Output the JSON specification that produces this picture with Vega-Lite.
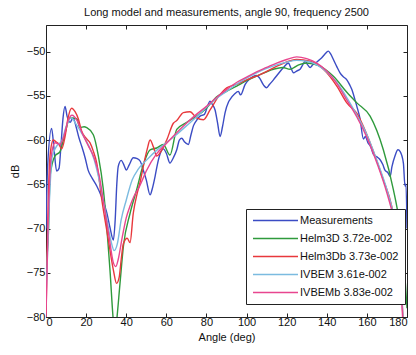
{
  "$schema": "https://vega.github.io/schema/vega-lite/v6.json",
  "width": 361,
  "height": 292,
  "autosize": {"type": "none"},
  "padding": {"left": 46, "top": 25, "right": 9, "bottom": 38},
  "background": "white",
  "title": {"text": "Long model and measurements, angle 90, frequency 2500", "fontSize": 11, "fontWeight": "normal", "font": "Liberation Sans", "color": "#111", "offset": 7},
  "config": {
    "view": {"stroke": "#222", "strokeWidth": 1},
    "axis": {"labelFont": "Liberation Sans", "titleFont": "Liberation Sans", "labelFontSize": 11, "titleFontSize": 11, "titleFontWeight": "normal", "labelColor": "#111", "titleColor": "#111", "domain": false, "grid": false, "tickColor": "#222", "tickSize": -4}
  },
  "data": {"values": [
    {"s":"Measurements","x":0,"y":-70},{"s":"Measurements","x":0.8,"y":-63},{"s":"Measurements","x":2.8,"y":-58.7},{"s":"Measurements","x":4,"y":-61},{"s":"Measurements","x":5.3,"y":-63.5},{"s":"Measurements","x":6.5,"y":-63.2},{"s":"Measurements","x":7.5,"y":-60.5},{"s":"Measurements","x":8.5,"y":-57.5},{"s":"Measurements","x":9.5,"y":-56.2},{"s":"Measurements","x":10.5,"y":-57.3},{"s":"Measurements","x":12,"y":-58},{"s":"Measurements","x":13.5,"y":-57.5},{"s":"Measurements","x":15,"y":-58.5},{"s":"Measurements","x":16.5,"y":-59.8},{"s":"Measurements","x":17.8,"y":-60.7},{"s":"Measurements","x":19.5,"y":-62},{"s":"Measurements","x":21,"y":-63.4},{"s":"Measurements","x":23,"y":-64.3},{"s":"Measurements","x":25.3,"y":-65.2},{"s":"Measurements","x":27.5,"y":-66.3},{"s":"Measurements","x":30.3,"y":-68.2},{"s":"Measurements","x":32,"y":-70},{"s":"Measurements","x":33.6,"y":-71.3},{"s":"Measurements","x":34.5,"y":-69},{"s":"Measurements","x":35.3,"y":-65},{"s":"Measurements","x":36,"y":-63},{"s":"Measurements","x":37.5,"y":-62.3},{"s":"Measurements","x":39,"y":-62.9},{"s":"Measurements","x":40,"y":-63.4},{"s":"Measurements","x":41.5,"y":-62.8},{"s":"Measurements","x":43.5,"y":-62},{"s":"Measurements","x":45.5,"y":-62.1},{"s":"Measurements","x":47,"y":-62.4},{"s":"Measurements","x":48.5,"y":-63.4},{"s":"Measurements","x":50,"y":-64.5},{"s":"Measurements","x":51.9,"y":-66.2},{"s":"Measurements","x":53,"y":-65.5},{"s":"Measurements","x":54.4,"y":-64.1},{"s":"Measurements","x":55.5,"y":-62.8},{"s":"Measurements","x":57,"y":-61.5},{"s":"Measurements","x":58.5,"y":-61},{"s":"Measurements","x":60,"y":-61.5},{"s":"Measurements","x":61.8,"y":-62.6},{"s":"Measurements","x":63.5,"y":-62},{"s":"Measurements","x":65.2,"y":-61.1},{"s":"Measurements","x":66.5,"y":-60},{"s":"Measurements","x":67.7,"y":-59.8},{"s":"Measurements","x":69,"y":-60.2},{"s":"Measurements","x":71,"y":-60.5},{"s":"Measurements","x":72.3,"y":-59.4},{"s":"Measurements","x":73.5,"y":-58.4},{"s":"Measurements","x":75,"y":-57.8},{"s":"Measurements","x":76.8,"y":-57.3},{"s":"Measurements","x":79,"y":-57.1},{"s":"Measurements","x":80.5,"y":-56.2},{"s":"Measurements","x":81.8,"y":-55.6},{"s":"Measurements","x":83,"y":-56},{"s":"Measurements","x":84.3,"y":-56.6},{"s":"Measurements","x":85.5,"y":-58},{"s":"Measurements","x":86.8,"y":-59.6},{"s":"Measurements","x":88,"y":-58.5},{"s":"Measurements","x":89.3,"y":-56.9},{"s":"Measurements","x":91,"y":-55.7},{"s":"Measurements","x":91.8,"y":-55.4},{"s":"Measurements","x":94,"y":-54.8},{"s":"Measurements","x":95.9,"y":-54.5},{"s":"Measurements","x":97,"y":-54.9},{"s":"Measurements","x":99.3,"y":-53.7},{"s":"Measurements","x":101.5,"y":-53.1},{"s":"Measurements","x":103.4,"y":-52.8},{"s":"Measurements","x":105,"y":-52.7},{"s":"Measurements","x":106.5,"y":-53},{"s":"Measurements","x":108.5,"y":-53.8},{"s":"Measurements","x":110,"y":-54.1},{"s":"Measurements","x":111.5,"y":-53.7},{"s":"Measurements","x":113.4,"y":-53.2},{"s":"Measurements","x":115.5,"y":-52.6},{"s":"Measurements","x":118.4,"y":-51.8},{"s":"Measurements","x":120.9,"y":-51.3},{"s":"Measurements","x":122,"y":-51.8},{"s":"Measurements","x":123.4,"y":-52.4},{"s":"Measurements","x":125,"y":-52.2},{"s":"Measurements","x":126.7,"y":-52},{"s":"Measurements","x":128,"y":-51.5},{"s":"Measurements","x":129.2,"y":-51.1},{"s":"Measurements","x":130.5,"y":-51.5},{"s":"Measurements","x":131.7,"y":-51.8},{"s":"Measurements","x":133,"y":-51.5},{"s":"Measurements","x":134.5,"y":-51.3},{"s":"Measurements","x":136,"y":-51},{"s":"Measurements","x":137.5,"y":-50.7},{"s":"Measurements","x":139,"y":-50.3},{"s":"Measurements","x":140.8,"y":-49.95},{"s":"Measurements","x":142,"y":-50.3},{"s":"Measurements","x":143.3,"y":-50.9},{"s":"Measurements","x":145,"y":-51.7},{"s":"Measurements","x":146.6,"y":-52.4},{"s":"Measurements","x":148,"y":-52.8},{"s":"Measurements","x":150,"y":-53.2},{"s":"Measurements","x":151.5,"y":-53.8},{"s":"Measurements","x":152.5,"y":-54.3},{"s":"Measurements","x":154,"y":-55.4},{"s":"Measurements","x":155,"y":-56.2},{"s":"Measurements","x":156.5,"y":-57.5},{"s":"Measurements","x":158.3,"y":-59.9},{"s":"Measurements","x":159.2,"y":-59.6},{"s":"Measurements","x":160.5,"y":-60.3},{"s":"Measurements","x":162,"y":-60.8},{"s":"Measurements","x":163.2,"y":-61.6},{"s":"Measurements","x":165,"y":-61.9},{"s":"Measurements","x":166.5,"y":-62.2},{"s":"Measurements","x":168,"y":-62.8},{"s":"Measurements","x":169,"y":-63.4},{"s":"Measurements","x":170.5,"y":-63.7},{"s":"Measurements","x":171.6,"y":-64.1},{"s":"Measurements","x":172.5,"y":-63},{"s":"Measurements","x":174,"y":-61.8},{"s":"Measurements","x":175.5,"y":-61.1},{"s":"Measurements","x":176.6,"y":-61.3},{"s":"Measurements","x":178.2,"y":-62.6},{"s":"Measurements","x":179,"y":-65.2},{"s":"Measurements","x":179.5,"y":-65},{"s":"Measurements","x":180,"y":-70},

    {"s":"Helm3D 3.72e-002","x":0,"y":-74},{"s":"Helm3D 3.72e-002","x":1.2,"y":-70.5},{"s":"Helm3D 3.72e-002","x":2,"y":-64.1},{"s":"Helm3D 3.72e-002","x":4.5,"y":-61.8},{"s":"Helm3D 3.72e-002","x":7,"y":-61.3},{"s":"Helm3D 3.72e-002","x":9.5,"y":-59.2},{"s":"Helm3D 3.72e-002","x":12,"y":-57.5},{"s":"Helm3D 3.72e-002","x":15.3,"y":-57.6},{"s":"Helm3D 3.72e-002","x":17,"y":-58.6},{"s":"Helm3D 3.72e-002","x":19,"y":-58.5},{"s":"Helm3D 3.72e-002","x":20.3,"y":-58.6},{"s":"Helm3D 3.72e-002","x":23.6,"y":-59.4},{"s":"Helm3D 3.72e-002","x":26.1,"y":-61.8},{"s":"Helm3D 3.72e-002","x":28.6,"y":-65.6},{"s":"Helm3D 3.72e-002","x":31.9,"y":-74.7},{"s":"Helm3D 3.72e-002","x":33.6,"y":-80.5},{"s":"Helm3D 3.72e-002","x":34.4,"y":-82},{"s":"Helm3D 3.72e-002","x":35.2,"y":-80.5},{"s":"Helm3D 3.72e-002","x":36.9,"y":-76.2},{"s":"Helm3D 3.72e-002","x":38.6,"y":-72},{"s":"Helm3D 3.72e-002","x":41.9,"y":-68.3},{"s":"Helm3D 3.72e-002","x":45.2,"y":-65.6},{"s":"Helm3D 3.72e-002","x":48.5,"y":-62.8},{"s":"Helm3D 3.72e-002","x":51.9,"y":-61.1},{"s":"Helm3D 3.72e-002","x":55.2,"y":-60.9},{"s":"Helm3D 3.72e-002","x":58.5,"y":-60.5},{"s":"Helm3D 3.72e-002","x":61.8,"y":-61.7},{"s":"Helm3D 3.72e-002","x":65.2,"y":-58.8},{"s":"Helm3D 3.72e-002","x":70.2,"y":-58},{"s":"Helm3D 3.72e-002","x":75.1,"y":-57.3},{"s":"Helm3D 3.72e-002","x":80,"y":-56.4},{"s":"Helm3D 3.72e-002","x":85.1,"y":-55.1},{"s":"Helm3D 3.72e-002","x":90,"y":-54.5},{"s":"Helm3D 3.72e-002","x":95.1,"y":-53.9},{"s":"Helm3D 3.72e-002","x":100,"y":-53.3},{"s":"Helm3D 3.72e-002","x":106.7,"y":-52.6},{"s":"Helm3D 3.72e-002","x":113.4,"y":-52},{"s":"Helm3D 3.72e-002","x":118,"y":-51.8},{"s":"Helm3D 3.72e-002","x":121.7,"y":-52},{"s":"Helm3D 3.72e-002","x":126,"y":-51.5},{"s":"Helm3D 3.72e-002","x":130,"y":-51.3},{"s":"Helm3D 3.72e-002","x":136,"y":-51.6},{"s":"Helm3D 3.72e-002","x":143.3,"y":-52.8},{"s":"Helm3D 3.72e-002","x":150,"y":-54.6},{"s":"Helm3D 3.72e-002","x":155,"y":-55.8},{"s":"Helm3D 3.72e-002","x":161.6,"y":-57.3},{"s":"Helm3D 3.72e-002","x":168.2,"y":-61.1},{"s":"Helm3D 3.72e-002","x":173.2,"y":-65.6},{"s":"Helm3D 3.72e-002","x":176,"y":-69},{"s":"Helm3D 3.72e-002","x":178.5,"y":-74},{"s":"Helm3D 3.72e-002","x":180,"y":-79},

    {"s":"Helm3Db 3.73e-002","x":0,"y":-80},{"s":"Helm3Db 3.73e-002","x":0.8,"y":-70},{"s":"Helm3Db 3.73e-002","x":2,"y":-61.8},{"s":"Helm3Db 3.73e-002","x":3.6,"y":-60},{"s":"Helm3Db 3.73e-002","x":5,"y":-60.2},{"s":"Helm3Db 3.73e-002","x":6.2,"y":-60.4},{"s":"Helm3Db 3.73e-002","x":7.8,"y":-61},{"s":"Helm3Db 3.73e-002","x":9.5,"y":-59.6},{"s":"Helm3Db 3.73e-002","x":11,"y":-57.5},{"s":"Helm3Db 3.73e-002","x":12.8,"y":-56.4},{"s":"Helm3Db 3.73e-002","x":14.5,"y":-56.8},{"s":"Helm3Db 3.73e-002","x":16.1,"y":-57.6},{"s":"Helm3Db 3.73e-002","x":17.8,"y":-59},{"s":"Helm3Db 3.73e-002","x":20,"y":-59.8},{"s":"Helm3Db 3.73e-002","x":21.9,"y":-60.3},{"s":"Helm3Db 3.73e-002","x":23.5,"y":-61.2},{"s":"Helm3Db 3.73e-002","x":25.3,"y":-62.6},{"s":"Helm3Db 3.73e-002","x":27.8,"y":-66.7},{"s":"Helm3Db 3.73e-002","x":31.1,"y":-71.3},{"s":"Helm3Db 3.73e-002","x":33.6,"y":-74.7},{"s":"Helm3Db 3.73e-002","x":35.2,"y":-76.2},{"s":"Helm3Db 3.73e-002","x":36.5,"y":-75.5},{"s":"Helm3Db 3.73e-002","x":37.5,"y":-73.5},{"s":"Helm3Db 3.73e-002","x":38.6,"y":-71.7},{"s":"Helm3Db 3.73e-002","x":40.5,"y":-71.1},{"s":"Helm3Db 3.73e-002","x":41.9,"y":-71.6},{"s":"Helm3Db 3.73e-002","x":43.5,"y":-68.3},{"s":"Helm3Db 3.73e-002","x":45.5,"y":-66},{"s":"Helm3Db 3.73e-002","x":46.9,"y":-64.8},{"s":"Helm3Db 3.73e-002","x":48.5,"y":-63},{"s":"Helm3Db 3.73e-002","x":50.5,"y":-61},{"s":"Helm3Db 3.73e-002","x":51.9,"y":-60},{"s":"Helm3Db 3.73e-002","x":53.6,"y":-60.8},{"s":"Helm3Db 3.73e-002","x":55.2,"y":-61.8},{"s":"Helm3Db 3.73e-002","x":57.6,"y":-61.2},{"s":"Helm3Db 3.73e-002","x":60.2,"y":-60},{"s":"Helm3Db 3.73e-002","x":63.5,"y":-58.1},{"s":"Helm3Db 3.73e-002","x":65.2,"y":-57.8},{"s":"Helm3Db 3.73e-002","x":68.5,"y":-56.9},{"s":"Helm3Db 3.73e-002","x":71.8,"y":-56.8},{"s":"Helm3Db 3.73e-002","x":75.1,"y":-57.5},{"s":"Helm3Db 3.73e-002","x":78.5,"y":-57.7},{"s":"Helm3Db 3.73e-002","x":81.8,"y":-56.6},{"s":"Helm3Db 3.73e-002","x":86,"y":-55.1},{"s":"Helm3Db 3.73e-002","x":90.1,"y":-54.1},{"s":"Helm3Db 3.73e-002","x":95.1,"y":-53.7},{"s":"Helm3Db 3.73e-002","x":100,"y":-53.2},{"s":"Helm3Db 3.73e-002","x":106.7,"y":-52.6},{"s":"Helm3Db 3.73e-002","x":116.7,"y":-51.5},{"s":"Helm3Db 3.73e-002","x":125,"y":-50.9},{"s":"Helm3Db 3.73e-002","x":131.7,"y":-51.1},{"s":"Helm3Db 3.73e-002","x":138.3,"y":-52},{"s":"Helm3Db 3.73e-002","x":145,"y":-53.9},{"s":"Helm3Db 3.73e-002","x":150,"y":-55.8},{"s":"Helm3Db 3.73e-002","x":155,"y":-57},{"s":"Helm3Db 3.73e-002","x":161.6,"y":-60.3},{"s":"Helm3Db 3.73e-002","x":168.2,"y":-64.5},{"s":"Helm3Db 3.73e-002","x":172.4,"y":-67.5},{"s":"Helm3Db 3.73e-002","x":175,"y":-71},{"s":"Helm3Db 3.73e-002","x":177,"y":-76},{"s":"Helm3Db 3.73e-002","x":178,"y":-80},

    {"s":"IVBEM 3.61e-002","x":0,"y":-78},{"s":"IVBEM 3.61e-002","x":1.5,"y":-68},{"s":"IVBEM 3.61e-002","x":3,"y":-62},{"s":"IVBEM 3.61e-002","x":5,"y":-60.8},{"s":"IVBEM 3.61e-002","x":8,"y":-60},{"s":"IVBEM 3.61e-002","x":10,"y":-58.5},{"s":"IVBEM 3.61e-002","x":12.5,"y":-57.5},{"s":"IVBEM 3.61e-002","x":15,"y":-58.2},{"s":"IVBEM 3.61e-002","x":18,"y":-59.3},{"s":"IVBEM 3.61e-002","x":21,"y":-60.5},{"s":"IVBEM 3.61e-002","x":24,"y":-62.2},{"s":"IVBEM 3.61e-002","x":27,"y":-65},{"s":"IVBEM 3.61e-002","x":30,"y":-68.5},{"s":"IVBEM 3.61e-002","x":32.5,"y":-71.5},{"s":"IVBEM 3.61e-002","x":34,"y":-72.5},{"s":"IVBEM 3.61e-002","x":35.5,"y":-71.8},{"s":"IVBEM 3.61e-002","x":37.5,"y":-69},{"s":"IVBEM 3.61e-002","x":40,"y":-66.8},{"s":"IVBEM 3.61e-002","x":43,"y":-64.5},{"s":"IVBEM 3.61e-002","x":46,"y":-63.3},{"s":"IVBEM 3.61e-002","x":50,"y":-62.3},{"s":"IVBEM 3.61e-002","x":55,"y":-61.2},{"s":"IVBEM 3.61e-002","x":60,"y":-60.3},{"s":"IVBEM 3.61e-002","x":65,"y":-59.4},{"s":"IVBEM 3.61e-002","x":70,"y":-58.4},{"s":"IVBEM 3.61e-002","x":75,"y":-57.4},{"s":"IVBEM 3.61e-002","x":80,"y":-56.3},{"s":"IVBEM 3.61e-002","x":85,"y":-55.3},{"s":"IVBEM 3.61e-002","x":90,"y":-54.5},{"s":"IVBEM 3.61e-002","x":95,"y":-53.7},{"s":"IVBEM 3.61e-002","x":100,"y":-53},{"s":"IVBEM 3.61e-002","x":105,"y":-52.4},{"s":"IVBEM 3.61e-002","x":110,"y":-51.9},{"s":"IVBEM 3.61e-002","x":115,"y":-51.5},{"s":"IVBEM 3.61e-002","x":120,"y":-51.2},{"s":"IVBEM 3.61e-002","x":125,"y":-51},{"s":"IVBEM 3.61e-002","x":130,"y":-51.1},{"s":"IVBEM 3.61e-002","x":135,"y":-51.5},{"s":"IVBEM 3.61e-002","x":140,"y":-52.3},{"s":"IVBEM 3.61e-002","x":145,"y":-53.5},{"s":"IVBEM 3.61e-002","x":150,"y":-55.2},{"s":"IVBEM 3.61e-002","x":155,"y":-57.2},{"s":"IVBEM 3.61e-002","x":160,"y":-59.4},{"s":"IVBEM 3.61e-002","x":165,"y":-62.3},{"s":"IVBEM 3.61e-002","x":170,"y":-65.6},{"s":"IVBEM 3.61e-002","x":173,"y":-68.2},{"s":"IVBEM 3.61e-002","x":175,"y":-71},{"s":"IVBEM 3.61e-002","x":177,"y":-76},{"s":"IVBEM 3.61e-002","x":178,"y":-80},

    {"s":"IVBEMb 3.83e-002","x":0,"y":-80},{"s":"IVBEMb 3.83e-002","x":1,"y":-70},{"s":"IVBEMb 3.83e-002","x":2.5,"y":-62},{"s":"IVBEMb 3.83e-002","x":4.5,"y":-60.3},{"s":"IVBEMb 3.83e-002","x":7,"y":-60.5},{"s":"IVBEMb 3.83e-002","x":9,"y":-59.5},{"s":"IVBEMb 3.83e-002","x":11,"y":-57.8},{"s":"IVBEMb 3.83e-002","x":13,"y":-57.2},{"s":"IVBEMb 3.83e-002","x":15.5,"y":-57.8},{"s":"IVBEMb 3.83e-002","x":18,"y":-59.2},{"s":"IVBEMb 3.83e-002","x":21,"y":-60.6},{"s":"IVBEMb 3.83e-002","x":24,"y":-62},{"s":"IVBEMb 3.83e-002","x":26.5,"y":-64},{"s":"IVBEMb 3.83e-002","x":29,"y":-67.5},{"s":"IVBEMb 3.83e-002","x":31.5,"y":-71},{"s":"IVBEMb 3.83e-002","x":33.5,"y":-73.8},{"s":"IVBEMb 3.83e-002","x":34.8,"y":-74.3},{"s":"IVBEMb 3.83e-002","x":36,"y":-73.5},{"s":"IVBEMb 3.83e-002","x":38,"y":-71},{"s":"IVBEMb 3.83e-002","x":40,"y":-68.8},{"s":"IVBEMb 3.83e-002","x":42,"y":-67.4},{"s":"IVBEMb 3.83e-002","x":44,"y":-66.3},{"s":"IVBEMb 3.83e-002","x":46.5,"y":-65.3},{"s":"IVBEMb 3.83e-002","x":50,"y":-63.5},{"s":"IVBEMb 3.83e-002","x":55,"y":-61.6},{"s":"IVBEMb 3.83e-002","x":60,"y":-60.4},{"s":"IVBEMb 3.83e-002","x":65,"y":-59.2},{"s":"IVBEMb 3.83e-002","x":70,"y":-58.1},{"s":"IVBEMb 3.83e-002","x":75,"y":-57.1},{"s":"IVBEMb 3.83e-002","x":80,"y":-56.2},{"s":"IVBEMb 3.83e-002","x":85,"y":-55.2},{"s":"IVBEMb 3.83e-002","x":90,"y":-54.3},{"s":"IVBEMb 3.83e-002","x":95,"y":-53.5},{"s":"IVBEMb 3.83e-002","x":100,"y":-52.9},{"s":"IVBEMb 3.83e-002","x":105,"y":-52.3},{"s":"IVBEMb 3.83e-002","x":110,"y":-51.8},{"s":"IVBEMb 3.83e-002","x":115,"y":-51.3},{"s":"IVBEMb 3.83e-002","x":120,"y":-50.9},{"s":"IVBEMb 3.83e-002","x":125,"y":-50.6},{"s":"IVBEMb 3.83e-002","x":130,"y":-50.8},{"s":"IVBEMb 3.83e-002","x":135,"y":-51.3},{"s":"IVBEMb 3.83e-002","x":140,"y":-52.2},{"s":"IVBEMb 3.83e-002","x":145,"y":-53.6},{"s":"IVBEMb 3.83e-002","x":150,"y":-55.5},{"s":"IVBEMb 3.83e-002","x":155,"y":-57.4},{"s":"IVBEMb 3.83e-002","x":160,"y":-59.7},{"s":"IVBEMb 3.83e-002","x":165,"y":-62.6},{"s":"IVBEMb 3.83e-002","x":170,"y":-66},{"s":"IVBEMb 3.83e-002","x":173,"y":-68.6},{"s":"IVBEMb 3.83e-002","x":175,"y":-71.5},{"s":"IVBEMb 3.83e-002","x":177,"y":-76.5},{"s":"IVBEMb 3.83e-002","x":177.8,"y":-80}
  ]},
  "layer": [
    {
      "mark": {"type": "line", "clip": true, "strokeWidth": 1.4, "interpolate": "monotone"},
      "encoding": {
        "x": {"field": "x", "type": "quantitative", "scale": {"domain": [0, 180], "nice": false}, "axis": {"title": "Angle (deg)", "values": [0,20,40,60,80,100,120,140,160,180], "labelPadding": 3, "titlePadding": 4}},
        "y": {"field": "y", "type": "quantitative", "scale": {"domain": [-80, -47], "nice": false, "zero": false}, "axis": {"title": "dB", "values": [-80,-75,-70,-65,-60,-55,-50], "labelPadding": 5, "titlePadding": 6}},
        "color": {"field": "s", "type": "nominal", "sort": null,
          "scale": {"domain": ["Measurements","Helm3D 3.72e-002","Helm3Db 3.73e-002","IVBEM 3.61e-002","IVBEMb 3.83e-002"], "range": ["#3b4cc4","#2f9a3c","#e8383c","#7bbbe0","#e8468f"]},
          "legend": {"title": null, "orient": "none", "legendX": 200, "legendY": 184, "symbolType": "M-1,0L9,0", "symbolSize": 81, "symbolStrokeWidth": 1.5, "labelFont": "Liberation Sans", "labelFontSize": 11, "labelColor": "#111", "strokeColor": "#222", "fillColor": "white", "padding": 6, "rowPadding": 6, "labelOffset": 37}}
      }
    },
    {
      "mark": {"type": "point", "opacity": 0},
      "encoding": {
        "x": {"field": "x", "type": "quantitative", "axis": {"orient": "top", "labels": false, "title": null, "values": [0,20,40,60,80,100,120,140,160,180]}},
        "y": {"field": "y", "type": "quantitative", "axis": {"orient": "right", "labels": false, "title": null, "values": [-80,-75,-70,-65,-60,-55,-50]}}
      }
    }
  ],
  "resolve": {"axis": {"x": "independent", "y": "independent"}}
}
